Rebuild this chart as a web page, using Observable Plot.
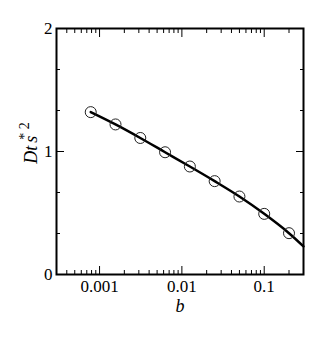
<!DOCTYPE html>
<html><head><meta charset="utf-8">
<script src="https://cdn.jsdelivr.net/npm/d3@7"></script>
<script src="https://cdn.jsdelivr.net/npm/@observablehq/plot@0.6"></script>
<style>
body{margin:0;background:#fff;}
svg, svg text { font-family: "Liberation Serif", "Times New Roman", Times, serif !important; }
</style>
</head><body><div id="chart"></div>
<script>
const bValues = [0.00078125, 0.0015625, 0.003125, 0.00625, 0.0125, 0.025, 0.05, 0.1, 0.2];
const dtValues = [1.32, 1.22, 1.11, 0.994, 0.878, 0.759, 0.634, 0.493, 0.336];
const fitB = [0.00078125, 0.0015625, 0.003125, 0.00625, 0.0125, 0.025, 0.05, 0.1, 0.2, 0.3];
const fitY = [1.32, 1.22, 1.11, 0.994, 0.878, 0.759, 0.634, 0.493, 0.336, 0.228];
const xMajor = [0.001, 0.01, 0.1];
const xTickLabels = ["0.001", "0.01", "0.1"];
const xMinor = [0.0004, 0.0005, 0.0006, 0.0007, 0.0008, 0.0009,
  0.002, 0.003, 0.004, 0.005, 0.006, 0.007, 0.008, 0.009,
  0.02, 0.03, 0.04, 0.05, 0.06, 0.07, 0.08, 0.09, 0.2];
const yMajor = [0, 1, 2];
const yTickLabels = ["0", "1", "2"];
const yMinor = [1/3, 2/3, 4/3, 5/3];
const xLabel = "b";

const points = bValues.map((b, i) => ({b, v: dtValues[i]}));
const fit = fitB.map((b, i) => ({b, v: fitY[i]}));
const blank = () => "";

const chart = Plot.plot({
  width: 314, height: 337,
  marginLeft: 56, marginRight: 11, marginTop: 28, marginBottom: 63,
  style: {fontFamily: "'Liberation Serif', 'Times New Roman', serif", fontSize: "17px", background: "white", color: "black"},
  x: {type: "log", domain: [0.0003, 0.3]},
  y: {domain: [0, 2]},
  marks: [
    Plot.axisX(xMajor, {anchor: "bottom", tickSize: -8, tickFormat: blank, label: null}),
    Plot.axisX(xMinor, {anchor: "bottom", tickSize: -4, tickFormat: blank, label: null}),
    Plot.axisX(xMajor, {anchor: "top", tickSize: -8, tickFormat: blank, label: null}),
    Plot.axisX(xMinor, {anchor: "top", tickSize: -4, tickFormat: blank, label: null}),
    Plot.axisY(yMajor, {anchor: "left", tickSize: -8, tickFormat: blank, label: null}),
    Plot.axisY(yMinor, {anchor: "left", tickSize: -4, tickFormat: blank, label: null}),
    Plot.axisY(yMajor, {anchor: "right", tickSize: -8, tickFormat: blank, label: null}),
    Plot.axisY(yMinor, {anchor: "right", tickSize: -4, tickFormat: blank, label: null}),
    Plot.axisX(xMajor, {anchor: "bottom", tickSize: 0, tickPadding: 5, tickFormat: d => xTickLabels[xMajor.indexOf(d)], label: null}),
    Plot.axisY(yMajor, {anchor: "left", tickSize: 0, tickPadding: 4, tickFormat: d => yTickLabels[yMajor.indexOf(d)], label: null}),
    Plot.line(fit, {x: "b", y: "v", stroke: "black", strokeWidth: 2.5, curve: "catmull-rom"}),
    Plot.dot(points, {x: "b", y: "v", r: 5.5, stroke: "#222", strokeWidth: 1, fill: "none"}),
    Plot.frame({stroke: "black", strokeWidth: 2}),
    Plot.text([xLabel], {frameAnchor: "bottom", dy: 37, fontStyle: "italic", fontSize: 18})
  ]
});
document.getElementById("chart").append(chart);

// y-axis title: D t_s^{*2}
const svg = d3.select(chart.tagName.toLowerCase() === "svg" ? chart : chart.querySelector("svg"));
const t = svg.append("text")
  .attr("transform", "translate(37,143) rotate(-90)")
  .attr("text-anchor", "middle")
  .attr("font-size", 18)
  .attr("font-style", "italic")
  .attr("fill", "black");
t.append("tspan").text("Dt");
t.append("tspan").attr("dx", 3).text("s");
t.append("tspan").attr("dy", -8).attr("dx", -4).attr("font-size", 14).attr("font-style", "normal").text("* 2");
</script>
</body></html>
